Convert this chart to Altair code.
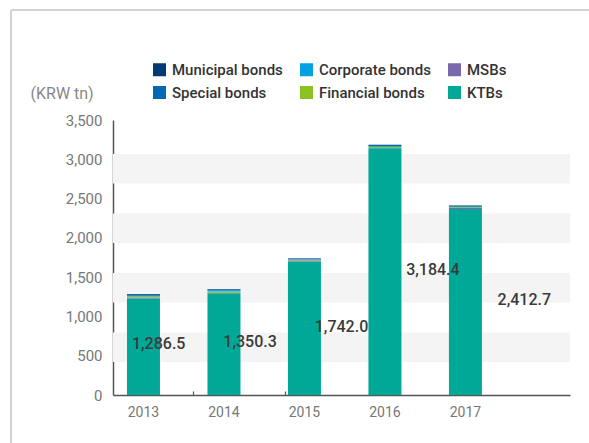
import altair as alt
import pandas as pd

# Outstanding bonds by type, KRW trillion
years = ["2013", "2014", "2015", "2016", "2017"]
totals = [1286.5, 1350.3, 1742.0, 3184.4, 2412.7]
ktbs = [1227.0, 1295.0, 1698.0, 3140.0, 2367.0]
msbs = [12.0, 6.0, 13.0, 4.0, 12.0]
financial = [14.0, 16.0, 9.0, 12.0, 11.0]
corporate = [11.0, 15.0, 7.0, 10.4, 5.0]
special = [13.0, 14.3, 6.0, 14.0, 9.7]
municipal = [9.5, 4.0, 9.0, 4.0, 8.0]

# stacking order, bottom to top
series = [
    ("KTBs", ktbs),
    ("MSBs", msbs),
    ("Financial bonds", financial),
    ("Corporate bonds", corporate),
    ("Special bonds", special),
    ("Municipal bonds", municipal),
]
# legend fills column by column
legend_order = ["Municipal bonds", "Special bonds", "Corporate bonds",
                "Financial bonds", "MSBs", "KTBs"]
legend_colors = ["#003b71", "#0069b4", "#00a0e3",
                 "#8cc21f", "#7a68ae", "#00a997"]

rows = []
for pos, (name, vals) in enumerate(series):
    for yr, v in zip(years, vals):
        rows.append({"year": yr, "type": name, "value": v, "stack": pos})
bars_df = pd.DataFrame(rows)
totals_df = pd.DataFrame({"year": years, "total": totals})

W, H = 457, 275
FONT = "Roboto"
BAR_W = 33
GAP = 47.5  # space between neighbouring bars


def bar_scale():
    return alt.Scale(domain=years, paddingInner=0.59, paddingOuter=0.634, align=0.137)


x_axis = alt.Axis(title=None, ticks=False, domainColor="#555555", domainWidth=1.5,
                  labelFont=FONT, labelFontSize=14, labelColor="#777777",
                  labelPadding=10, labelAngle=0)
y_scale = alt.Scale(domain=[0, 3500], nice=False)
y_axis = alt.Axis(values=list(range(0, 3501, 500)), format=",.0f", grid=False, ticks=False,
                  domainColor="#555555", domainWidth=1.5,
                  labelFont=FONT, labelFontSize=15, labelColor="#777777", labelPadding=11,
                  title="(KRW tn)", titleAngle=0, titleX=-83, titleY=-27,
                  titleAlign="left", titleBaseline="middle",
                  titleFont=FONT, titleFontSize=16, titleFontWeight="normal",
                  titleColor="#888888")

# alternating light background stripes
stripe_top = [34 + 59.5 * i for i in range(4)]
stripes_df = pd.DataFrame({"top": stripe_top, "bottom": [t + 29.6 for t in stripe_top]})
stripes = alt.Chart(stripes_df).mark_rect(color="#f4f4f4").encode(
    x=alt.value(0), x2=alt.value(W),
    y=alt.Y("top:Q", scale=None, axis=None), y2="bottom:Q",
)

bars = alt.Chart(bars_df).mark_bar(width=BAR_W).encode(
    x=alt.X("year:N", scale=bar_scale(), axis=x_axis),
    y=alt.Y("value:Q", stack="zero", scale=y_scale, axis=y_axis),
    color=alt.Color(
        "type:N",
        scale=alt.Scale(domain=legend_order, range=legend_colors),
        legend=alt.Legend(
            title=None, orient="none", legendX=39, legendY=-58, columns=3,
            symbolType="square", symbolSize=169, symbolStrokeWidth=0,
            labelFont=FONT, labelFontSize=15, labelFontWeight=500, labelColor="#333333",
            columnPadding=16, rowPadding=7, labelOffset=5, labelLimit=250,
        ),
    ),
    order=alt.Order("stack:Q", sort="ascending"),
)

# small upward ticks in the gaps between the year groups: a tick-only axis
# moved down onto the baseline
gap_axis = alt.Axis(orient="top", offset=-H, labels=False, domain=False, title=None,
                    values=years[1:], bandPosition=0, tickOffset=-GAP / 2,
                    tickSize=4, tickColor="#555555", tickWidth=1.2, grid=False)
gap_ticks = alt.Chart(totals_df).mark_point(opacity=0).encode(
    x=alt.X("year:N", scale=bar_scale(), axis=gap_axis),
    y=alt.Y("total:Q", scale=y_scale, axis=y_axis),
)

labels = alt.Chart(totals_df).transform_calculate(mid="datum.total / 2").mark_text(
    font=FONT, fontSize=16, fontWeight=500, color="#3a3a3a", baseline="middle"
).encode(
    x=alt.X("year:N", scale=alt.Scale(domain=years, paddingInner=0, paddingOuter=0), axis=None),
    y=alt.Y("mid:Q", scale=y_scale, axis=y_axis),
    text=alt.Text("total:Q", format=",.1f"),
)

frame_top = alt.Chart(totals_df).mark_rule(color="#d2d2d2", strokeWidth=2).encode(
    x=alt.value(-102), x2=alt.value(W + 19), y=alt.value(-110)
)
frame_left = alt.Chart(totals_df).mark_rule(color="#d2d2d2", strokeWidth=2).encode(
    x=alt.value(-102), y=alt.value(-110), y2=alt.value(H + 48)
)

chart = alt.layer(
    stripes, bars, gap_ticks, labels, frame_top, frame_left
).resolve_scale(x="independent").properties(
    width=W, height=H,
    padding={"left": 113, "top": 120, "right": 19, "bottom": 48},
    autosize=alt.AutoSizeParams(type="none"),
    background="white",
).configure_view(stroke=None)

chart.save("out.html", embed_options={"renderer": "svg", "actions": False})
